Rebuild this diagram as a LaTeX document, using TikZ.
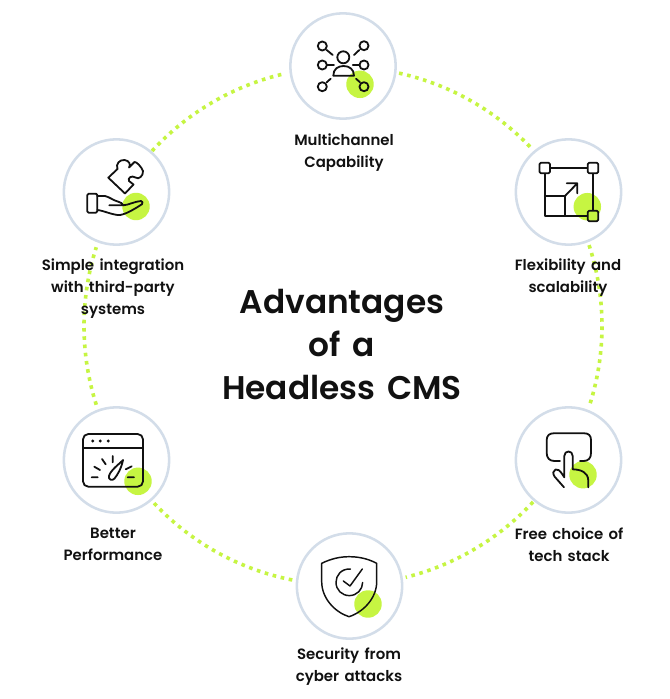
\documentclass[tikz,border=0pt]{standalone}
\usepackage{fontspec}
\setmainfont{Poppins}[UprightFont=* SemiBold,WordSpace=1.5]
\tikzset{
 x=0.75pt,y=-0.75pt,
 badge/.style={circle,draw=ringc,line width=1.9pt,fill=white,minimum size=79pt,inner sep=0pt},
 lab/.style={align=center,font=\fontsize{11.2}{16.5}\selectfont,text=ink,inner sep=0pt},
 ttl/.style={align=center,font=\fontsize{24.6}{32}\selectfont,text=ink,inner sep=0pt},
 ringdots/.style={draw=lime,line width=2.7pt,dash pattern=on 2.7pt off 3.5pt},
 ic/.style={draw=ink,line width=1.35pt,line cap=round,line join=round},
 ict/.style={draw=ink,line width=1.1pt,line cap=round,line join=round},
 blob/.style={fill=lime,draw=none}
}
\definecolor{lime}{HTML}{C6F542}
\definecolor{ringc}{HTML}{D3DDE9}
\definecolor{ink}{HTML}{111111}
\newcommand{\ringarc}[2]{\draw[ringdots] plot[domain=#1:#2,samples=60,smooth] ({343+259*cos(\x)},{326+259*sin(\x)});}
\begin{document}
\begin{tikzpicture}
\useasboundingbox[fill=white] (0,0) rectangle (670,699);
\ringarc{-77.5}{-43}
\ringarc{-18.2}{17.8}
\ringarc{42.8}{76}
\ringarc{101.3}{137.3}
\ringarc{162.3}{197.7}
\ringarc{222.5}{256.6}
\node[badge] (b1) at (343,66) {};
\node[badge] (b2) at (568.5,192) {};
\node[badge] (b3) at (568.5,460) {};
\node[badge] (b4) at (349.5,586) {};
\node[badge] (b5) at (116.5,460) {};
\node[badge] (b6) at (116.5,192) {};
% icon 1
\begin{scope}[shift={(b1.center)}]
\fill[blob] (17,18.3) circle[radius=10.3pt];
\draw[ic] (0.3,-8.7) circle[radius=4.5pt];
\draw[ic] (-9.7,9.7) .. controls (-9.7,3) and (-5,0) .. (0.6,0) .. controls (6,0) and (11,3) .. (11,9.7) -- cycle;
\foreach \p in {(-20.7,-20),(21,-20.3),(-20.7,-1),(21,-1),(-20.7,20.7),(21,20.7)} \draw[ic] \p circle[radius=3.4pt];
\draw[ic] (-16.3,-16)--(-10.3,-11) (16.3,-16)--(11,-11) (-15.7,-1)--(-9,-1) (9.7,-1)--(16.3,-1) (-16.3,16.3)--(-12.3,12.7) (13,12.7)--(17,16.3);
\end{scope}
% icon 2
\begin{scope}[shift={(b2.center)}]
\fill[blob] (18.8,14.7) circle[radius=10.3pt];
\draw[ic] (-23.8,-24) rectangle (24.5,24);
\draw[ic] (-23.8,4)--(-3.5,4)--(-3.5,24);
\draw[ic] (-3.5,4)--(8.8,-8.7) (-1.8,-8.7)--(8.8,-8.7)--(8.8,1.3);
\draw[ic,fill=white,rounded corners=1pt] (-29,-29.2) rectangle (-18.6,-18.8);
\draw[ic,fill=white,rounded corners=1pt] (19.3,-29.2) rectangle (29.7,-18.8);
\draw[ic,fill=lime,rounded corners=1pt] (19.3,18.8) rectangle (29.7,29.2);
\end{scope}
% icon 3
\begin{scope}[shift={(b3.center)}]
\fill[blob] (14.5,14.7) circle[radius=10.3pt];
\draw[ic] (-8.5,1) -- (-14,1) .. controls (-19,1) and (-21.8,-2) .. (-21.8,-7) -- (-21.8,-20) .. controls (-21.8,-24.5) and (-19,-26.7) .. (-15,-26.7) -- (16,-26.7) .. controls (20,-26.7) and (22.5,-24.5) .. (22.5,-20) -- (22.5,-7) .. controls (22.5,-2) and (20,1) .. (15,1) -- (11.5,1);
\draw[ic] (-4.5,27.3) -- (-14,16.5) .. controls (-16,13.5) and (-15.5,10.5) .. (-13,9.5) .. controls (-11,8.7) and (-9,9.5) .. (-4.2,17.3) -- (-4.2,-4) .. controls (-4.2,-10) and (4.2,-10) .. (4.2,-4) -- (4.2,9.3) .. controls (12,9.5) and (19.8,12) .. (19.8,21) -- (19.8,27.3);
\end{scope}
% icon 4
\begin{scope}[shift={(b4.center)}]
\fill[blob] (18.5,18) circle[radius=10.3pt];
\draw[ict] (-27.8,-22.7) .. controls (-18,-27.5) and (-9,-29.3) .. (-0.5,-29.3) .. controls (9,-29.3) and (18,-27.5) .. (27.2,-22.7) -- (27.2,-4.3) .. controls (27.2,12) and (14,26) .. (-0.5,30.7) .. controls (-15,26) and (-27.8,12) .. (-27.8,-4.3) -- cycle;
\draw[ict] (1,-17) .. controls (-8,-17.5) and (-13.5,-11) .. (-13.5,-3.7) .. controls (-13.5,4) and (-7.5,9.6) .. (-0.2,9.6) .. controls (7.5,9.6) and (13.1,3.5) .. (13.1,-3.5);
\draw[ict] (-6.2,-5)--(0.5,0)--(12.8,-17);
\end{scope}
% icon 5
\begin{scope}[shift={(b5.center)}]
\fill[blob] (21.5,21.3) circle[radius=10.3pt];
\draw[ic,rounded corners=4pt] (-33.5,-26) rectangle (26.5,26.7);
\draw[ic] (-33.5,-12.3)--(26.5,-12.3);
\foreach \a in {-23.8,-16.2,-8.2} \fill[ink] (\a,-19) circle[radius=1.2pt];
\draw[ic] (-24.8,17.3)--(-18.8,17.3) (-22.2,6.7)--(-16.5,10) (-14.5,-1)--(-10.8,4.3) (-3.8,-4)--(-3.8,2.3) (9.2,9.3)--(15.2,6.3) (11.2,17.3)--(17.5,17.3);
\draw[ic] (6.5,0) .. controls (4,3) and (-6,10) .. (-7.5,16) .. controls (-8.5,20) and (-4,21) .. (-2,18.5) .. controls (1,15) and (5,8) .. (6.5,0) -- cycle;
\end{scope}
% icon 6
\begin{scope}[shift={(b6.center)}]
\fill[blob] (19.5,14.5) circle[radius=10.3pt];
\draw[ic,rounded corners=1pt] (-29.2,1.7) rectangle (-19.2,20.7);
\draw[ic] (-19.2,4) -- (-11.5,4) .. controls (-7,5) and (-3,8.5) .. (1.8,9.7) .. controls (4.5,10.5) and (6,11.5) .. (6.8,13.3) -- (-7.2,13.3);
\draw[ic] (6.8,13.3) .. controls (12,13) and (18,9.5) .. (24.5,9) .. controls (26,9) and (26.5,11) .. (25.5,12.2) .. controls (18,17) and (10,22) .. (3.5,23) .. controls (-3,23.5) and (-13,18.5) .. (-19.2,18);
\draw[ic] (-8.2,-14.3) -- (1,-23) .. controls (-1,-28) and (3,-32.5) .. (8,-32) .. controls (13,-31.5) and (14.5,-27) .. (12.5,-24.5) -- (18,-30) .. controls (20,-30.5) and (25,-25) .. (26.5,-21) .. controls (27,-16) and (22,-12) .. (19,-14.5) .. controls (15,-17) and (11,-14) .. (12.5,-11) -- (17,-7.5) -- (8.5,1.5) -- cycle;
\end{scope}
\node[lab] (t1) at (344,152.5) {Multichannel\\Capability};
\node[lab] (t2) at (568,278) {Flexibility and\\scalability};
\node[lab] (t3) at (569,544.5) {Free choice of\\tech stack};
\node[lab] (t4) at (349,667) {Security from\\cyber attacks};
\node[lab] (t5) at (113,544.5) {Better\\Performance};
\node[lab] (t6) at (113,289) {Simple integration\\with third-party\\systems};
\node[ttl] (title) at (342,344.5) {Advantages\\of a\\Headless CMS};
\end{tikzpicture}
\end{document}
